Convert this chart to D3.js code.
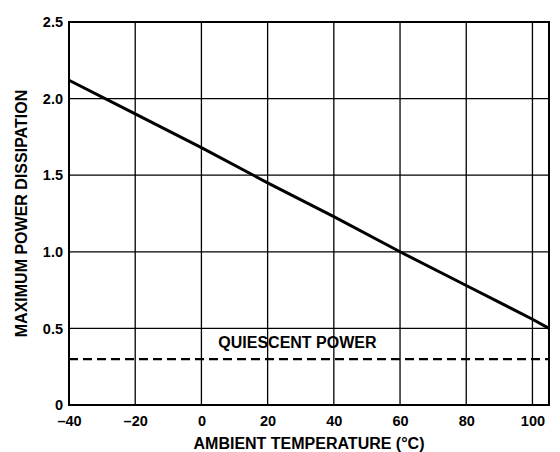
<!DOCTYPE html>
<html>
<head>
<meta charset="utf-8">
<script src="https://cdn.jsdelivr.net/npm/d3@7"></script>
<style>
  html, body { margin: 0; padding: 0; background: #fff; }
  svg { display: block; font-family: "Liberation Sans", Arial, sans-serif; font-weight: bold; }
</style>
</head>
<body>
<svg id="chart" width="560" height="452"></svg>
<script>
// Ambient temperature (°C) and maximum power dissipation (W)
const temperature = [-40, -20, 0, 20, 40, 60, 80, 100, 105];
const maxPower    = [2.12, 1.90, 1.68, 1.45, 1.23, 1.00, 0.78, 0.56, 0.50];

// Quiescent power level, flat across the range
const quiescentTemp  = [-40, 105];
const quiescentPower = [0.30, 0.30];

const xTicks = [-40, -20, 0, 20, 40, 60, 80, 100];
const yTicks = [0, 0.5, 1.0, 1.5, 2.0, 2.5];
const yTickLabels = ["0", "0.5", "1.0", "1.5", "2.0", "2.5"];

const margin = { left: 69, top: 22, right: 11, bottom: 47 };
const width = 560, height = 452;
const svg = d3.select("#chart");

const x = d3.scaleLinear().domain([-40, 105]).range([margin.left, width - margin.right]);
const y = d3.scaleLinear().domain([0, 2.5]).range([height - margin.bottom, margin.top]);

// Grid
const grid = svg.append("g").attr("stroke", "#000").attr("stroke-width", 1.3);
grid.selectAll("line.v").data(xTicks.slice(1)).join("line")
  .attr("x1", d => x(d)).attr("x2", d => x(d))
  .attr("y1", y(0)).attr("y2", y(2.5));
grid.selectAll("line.h").data(yTicks.slice(1, -1)).join("line")
  .attr("x1", x(-40)).attr("x2", x(105))
  .attr("y1", d => y(d)).attr("y2", d => y(d));

// Frame
svg.append("rect")
  .attr("x", x(-40)).attr("y", y(2.5))
  .attr("width", x(105) - x(-40)).attr("height", y(0) - y(2.5))
  .attr("fill", "none").attr("stroke", "#000").attr("stroke-width", 2);

// Axes (labels only; ticks are drawn by the grid)
const xAxis = d3.axisBottom(x).tickValues(xTicks).tickSize(0).tickPadding(11)
  .tickFormat(d => d < 0 ? "\u2013" + Math.abs(d) : String(d));
const gx = svg.append("g").attr("transform", `translate(0,${y(0)})`).call(xAxis);
gx.select(".domain").remove();
gx.selectAll("text").attr("font-size", 14.5).attr("font-family", "Liberation Sans, Arial, sans-serif")
  .attr("font-weight", "bold").attr("fill", "#000");

const yAxis = d3.axisLeft(y).tickValues(yTicks).tickSize(0).tickPadding(6)
  .tickFormat((d, i) => yTickLabels[i]);
const gy = svg.append("g").attr("transform", `translate(${x(-40)},0)`).call(yAxis);
gy.select(".domain").remove();
gy.selectAll("text").attr("font-size", 14.5).attr("font-family", "Liberation Sans, Arial, sans-serif")
  .attr("font-weight", "bold").attr("fill", "#000");

// Curves
const line = d3.line().x(d => x(d[0])).y(d => y(d[1]));
svg.append("path")
  .datum(temperature.map((t, i) => [t, maxPower[i]]))
  .attr("d", line).attr("fill", "none").attr("stroke", "#000").attr("stroke-width", 3);

svg.append("path")
  .datum(quiescentTemp.map((t, i) => [t, quiescentPower[i]]))
  .attr("d", line).attr("fill", "none").attr("stroke", "#000")
  .attr("stroke-width", 2.2).attr("stroke-dasharray", "9,5");

svg.append("text")
  .attr("x", x(29)).attr("y", y(0.3) - 11)
  .attr("text-anchor", "middle").attr("font-size", 16).text("QUIESCENT POWER");

// Axis titles
svg.append("text")
  .attr("x", x(32.5)).attr("y", 449)
  .attr("text-anchor", "middle").attr("font-size", 16).text("AMBIENT TEMPERATURE (°C)");

svg.append("text")
  .attr("transform", `translate(27,${y(1.25)}) rotate(-90)`)
  .attr("text-anchor", "middle").attr("font-size", 16).text("MAXIMUM POWER DISSIPATION");
</script>
</body>
</html>
